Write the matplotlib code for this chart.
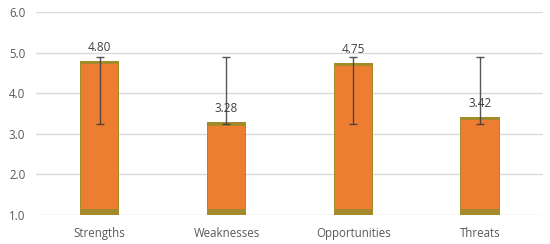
import matplotlib.pyplot as plt
import numpy as np

categories = ['Strengths', 'Weaknesses', 'Opportunities', 'Threats']
means = [4.80, 3.28, 4.75, 3.42]
err_low = [3.24, 3.23, 3.24, 3.24]
err_high = [4.88, 4.89, 4.88, 4.89]

base = 1.0
olive = '#a38b2c'
orange = '#ed7d31'

plt.rcParams['font.family'] = ['Open Sans', 'DejaVu Sans']

fig = plt.figure(figsize=(5.5, 2.44), dpi=100)
ax = fig.add_axes([0.066, 0.119, 0.922, 0.832])

x = np.arange(len(categories))
heights = np.array(means) - base
width = 0.31

# olive frame bar, then orange fill on top
ax.bar(x, heights, width, bottom=base, color=olive, zorder=2)
ax.bar(x, heights - 0.23, width - 0.016, bottom=base + 0.15, color=orange, zorder=3)

mid = np.array(means)
yerr = [mid - np.array(err_low), np.array(err_high) - mid]
ax.errorbar(x, mid, yerr=yerr, fmt='none', ecolor='#3a3a3a', alpha=0.85,
            elinewidth=1, capsize=3, capthick=1, zorder=4)

for xi, m in zip(x, means):
    ax.text(xi, m + 0.17, '%.2f' % m, ha='center', va='bottom',
            fontsize=8.5, color='#404040', zorder=5)

ax.set_xlim(-0.5, len(categories) - 0.5)
ax.set_ylim(1.0, 6.0)
ax.set_yticks(np.arange(1, 7, 1.0))
ax.set_yticklabels(['%.1f' % v for v in np.arange(1, 7, 1.0)])
ax.set_xticks(x)
ax.set_xticklabels(categories)
ax.tick_params(axis='both', length=0, labelsize=8.3, labelcolor='#595959')
ax.tick_params(axis='y', pad=8)
ax.tick_params(axis='x', pad=9)
ax.grid(axis='y', color='#d9d9d9', linewidth=1, zorder=0)
for s in ax.spines.values():
    s.set_visible(False)

fig.savefig('out.png', dpi=100)
